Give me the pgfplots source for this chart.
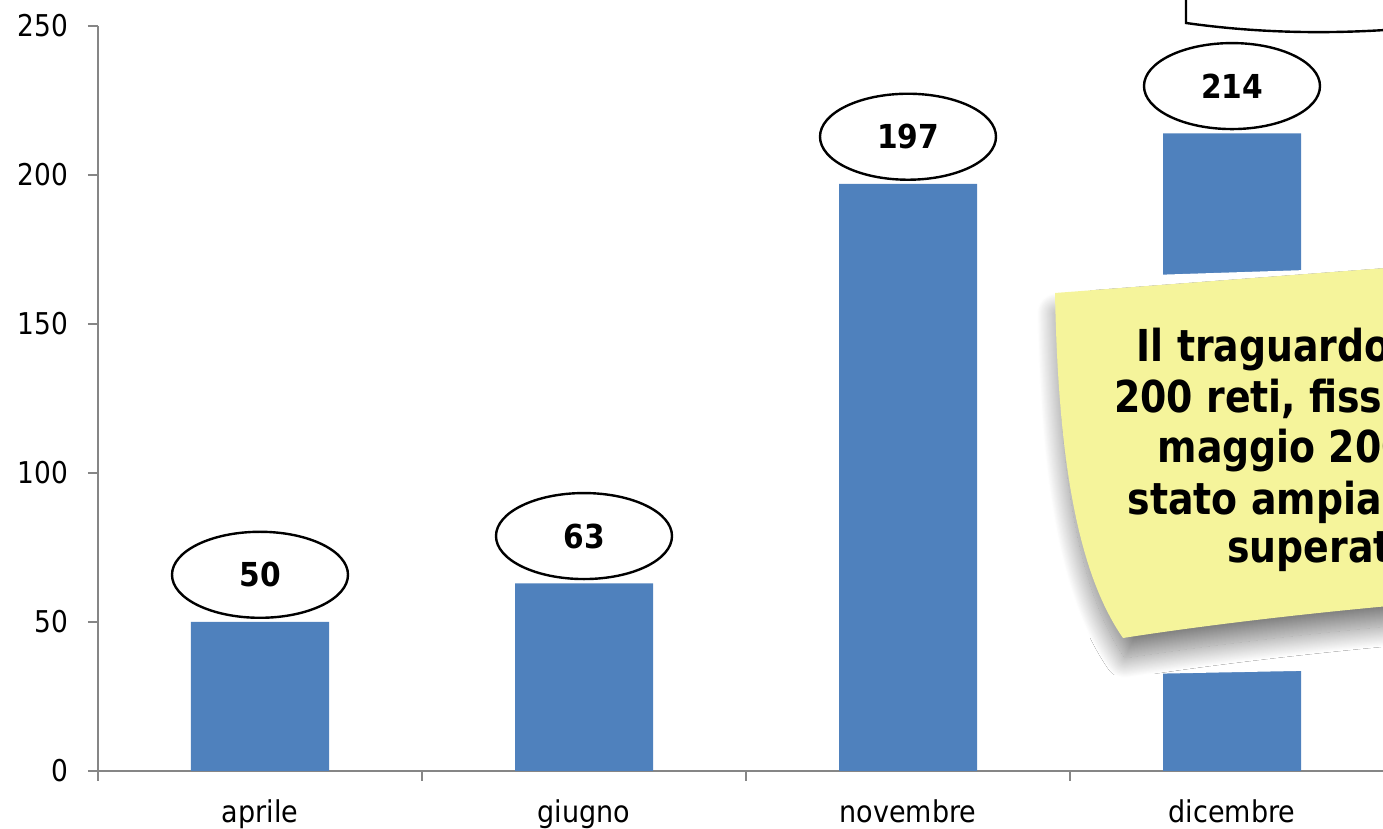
\documentclass[border=0pt]{standalone}
\usepackage{fontspec}
\setmainfont{DejaVu Sans}
\newfontfamily\cond[FakeStretch=0.9]{DejaVu Sans}
\newfontfamily\narrow[FakeStretch=0.88]{DejaVu Sans}
\newfontfamily\notefont[FakeStretch=0.86]{DejaVu Sans}
\usepackage{pgfplots}
\pgfplotsset{compat=1.18}
\usetikzlibrary{shapes.geometric,shadows.blur}

\definecolor{barblue}{RGB}{79,129,189}
\definecolor{axisgray}{RGB}{134,134,134}
\definecolor{noteyellow}{RGB}{245,244,155}

\begin{document}
\begin{tikzpicture}[x=0.5pt,y=0.5pt]
\useasboundingbox (0,0) rectangle (1383,829);
\clip (0,0) rectangle (1383,829);
\begin{axis}[
  at={(49pt,29pt)}, anchor=south west,
  width=648pt, height=372.5pt, scale only axis,
  xmin=-0.5, xmax=3.5, ymin=0, ymax=250,
  axis x line*=bottom, axis y line*=left,
  axis line style={axisgray, line width=1pt},
  every tick/.style={axisgray, line width=1pt},
  tick align=outside,
  major tick length=5pt, minor tick length=5pt,
  ytick={0,50,...,250},
  xtick={0,1,2,3},
  xticklabels={aprile,giugno,novembre,dicembre},
  major x tick style={draw=none},
  minor xtick={-0.5,0.5,1.5,2.5,3.5},
  /pgf/number format/assume math mode=true,
  yticklabel style={font=\narrow\fontsize{15}{15}\selectfont, text=black, xshift=-6.5pt},
  xticklabel style={font=\cond\fontsize{15}{15}\selectfont, text=black, yshift=-6pt},
  ybar, bar width=69pt,
  clip=false,
  nodes near coords,
  every node near coord/.append style={
    ellipse, draw=black, line width=1.2pt, fill=white,
    minimum width=88pt, minimum height=43pt, inner sep=0pt,
    anchor=south, yshift=1.5pt,
    font=\cond\bfseries\fontsize{16.5}{16.5}\selectfont, text=black},
]
\addplot[fill=barblue, draw=none] coordinates {(0,50) (1,63) (2,197) (3,214)};
\end{axis}

% white patch hiding the bar behind the note
\fill[white] (1090,552) -- (1400,562) -- (1400,160) -- (1090,154) -- cycle;

% sticky note with its shadow
\path[fill=noteyellow,
      blur shadow={shadow xshift=1pt, shadow yshift=-10pt, shadow blur radius=10pt,
                   shadow blur steps=40, shadow opacity=50}]
  (1055,536) -- (1400,562) -- (1400,224)
  .. controls (1300,215) and (1200,203) .. (1123,191)
  .. controls (1075,260) and (1058,380) .. cycle;

\begin{scope}[every node/.style={anchor=base, font=\notefont\bfseries\fontsize{22}{25}\selectfont}]
  \node at (1322.5,467) {Il traguardo delle};
  \node at (1322.5,416) {200 reti, fissato nel};
  \node at (1322.5,366) {maggio 2008, è};
  \node at (1322.5,314) {stato ampiamente};
  \node at (1322.5,266) {superato};
\end{scope}

% callout at the top right
\draw[line width=1.2pt, fill=white] (1186,840) -- (1186,806)
  .. controls (1250,797) and (1320,794) .. (1400,800) -- (1400,840) -- cycle;
\end{tikzpicture}
\end{document}
